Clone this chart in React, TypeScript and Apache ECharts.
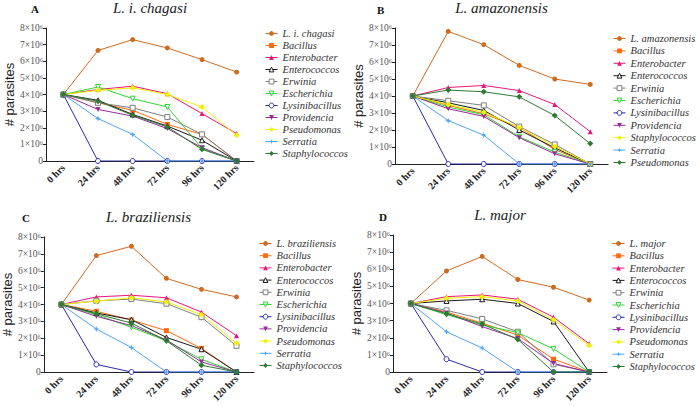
import React, { useEffect, useRef } from "react";
import * as echarts from "echarts";

const hours = ["0 hrs", "24 hrs", "48 hrs", "72 hrs", "96 hrs", "120 hrs"];
const yTicks = [0, 1e6, 2e6, 3e6, 4e6, 5e6, 6e6, 7e6, 8e6];

// Panel A – L. i. chagasi
const chagasi = [4.0e6, 6.65e6, 7.3e6, 6.8e6, 6.1e6, 5.35e6];
const aBacillus = [4.0e6, 3.5e6, 3.05e6, 2.2e6, 1.6e6, 0];
const aEnterobacter = [4.0e6, 4.3e6, 4.5e6, 4.05e6, 2.85e6, 1.65e6];
const aEnterococcos = [4.0e6, 3.65e6, 2.8e6, 2.1e6, 1.25e6, 0];
const aErwinia = [4.0e6, 3.5e6, 3.2e6, 2.65e6, 1.6e6, 0];
const aEscherichia = [4.0e6, 4.45e6, 3.75e6, 3.25e6, 0.75e6, 0];
const aLysinibacillus = [4.0e6, 0, 0, 0, 0, 0];
const aProvidencia = [4.0e6, 3.1e6, 2.7e6, 1.95e6, 0.8e6, 0];
const aPseudomonas = [4.0e6, 4.25e6, 4.4e6, 4.0e6, 3.25e6, 1.55e6];
const aSerratia = [4.0e6, 2.55e6, 1.6e6, 0, 0, 0];
const aStaphylococcos = [4.0e6, 3.6e6, 2.75e6, 2.05e6, 0.7e6, 0];

// Panel B – L. amazonensis
const amazonensis = [4.0e6, 7.8e6, 7.02e6, 5.8e6, 5.0e6, 4.68e6];
const bBacillus = [4.0e6, 3.45e6, 2.95e6, 2.15e6, 0.85e6, 0];
const bEnterobacter = [4.0e6, 4.5e6, 4.62e6, 4.32e6, 3.5e6, 1.9e6];
const bEnterococcos = [4.0e6, 3.6e6, 3.15e6, 2.0e6, 0.95e6, 0];
const bErwinia = [4.0e6, 3.72e6, 3.45e6, 2.2e6, 1.15e6, 0];
const bEscherichia = [4.0e6, 3.35e6, 2.9e6, 1.6e6, 0.7e6, 0];
const bLysinibacillus = [4.0e6, 0, 0, 0, 0, 0];
const bProvidencia = [4.0e6, 3.25e6, 2.8e6, 1.55e6, 0.6e6, 0];
const bStaphylococcos = [4.0e6, 3.5e6, 3.05e6, 2.15e6, 1.05e6, 0];
const bSerratia = [4.0e6, 2.55e6, 1.7e6, 0, 0, 0];
const bPseudomonas = [4.0e6, 4.35e6, 4.25e6, 3.95e6, 2.85e6, 1.2e6];

// Panel C – L. braziliensis
const braziliensis = [4.0e6, 6.9e6, 7.45e6, 5.55e6, 4.9e6, 4.45e6];
const cBacillus = [4.0e6, 3.6e6, 3.08e6, 2.45e6, 1.4e6, 0];
const cEnterobacter = [4.0e6, 4.45e6, 4.55e6, 4.4e6, 3.55e6, 2.15e6];
const cEnterococcos = [4.0e6, 3.5e6, 3.1e6, 2.05e6, 1.35e6, 0];
const cErwinia = [4.0e6, 4.22e6, 4.32e6, 4.05e6, 3.25e6, 1.55e6];
const cEscherichia = [4.0e6, 3.4e6, 2.65e6, 1.85e6, 0.75e6, 0];
const cLysinibacillus = [4.0e6, 0.45e6, 0, 0, 0, 0];
const cProvidencia = [4.0e6, 3.3e6, 2.75e6, 1.9e6, 0.6e6, 0];
const cPseudomonas = [4.0e6, 4.2e6, 4.4e6, 4.15e6, 3.4e6, 1.7e6];
const cSerratia = [4.0e6, 2.55e6, 1.45e6, 0, 0, 0];
const cStaphylococcos = [4.0e6, 3.45e6, 2.9e6, 1.85e6, 0.4e6, 0];

// Panel D – L. major
const major = [4.0e6, 5.9e6, 6.75e6, 5.4e6, 4.95e6, 4.2e6];
const dBacillus = [4.0e6, 3.5e6, 2.85e6, 2.15e6, 0.75e6, 0];
const dEnterobacter = [4.0e6, 4.4e6, 4.5e6, 4.25e6, 3.2e6, 1.65e6];
const dEnterococcos = [4.0e6, 4.15e6, 4.25e6, 4.0e6, 2.95e6, 0];
const dErwinia = [4.0e6, 3.6e6, 3.1e6, 2.35e6, 0.45e6, 0];
const dEscherichia = [4.0e6, 3.35e6, 2.75e6, 2.3e6, 1.35e6, 0];
const dLysinibacillus = [4.0e6, 0.75e6, 0, 0, 0, 0];
const dProvidencia = [4.0e6, 3.45e6, 2.65e6, 1.95e6, 0.5e6, 0];
const dPseudomonas = [4.0e6, 4.3e6, 4.4e6, 4.15e6, 3.05e6, 1.55e6];
const dSerratia = [4.0e6, 2.35e6, 1.4e6, 0, 0, 0];
const dStaphylococcos = [4.0e6, 3.4e6, 2.8e6, 1.9e6, 0, 0];

const TRI_DOWN = "path://M0,0L10,0L5,9Z";
const STAR4 = "path://M5,0L6.3,3.7L10,5L6.3,6.3L5,10L3.7,6.3L0,5L3.7,3.7Z";

type Sty = { color: string; symbol: string; open?: boolean; size?: number };
const STY: Record<string, Sty> = {
  main: { color: "#cf6a1f", symbol: "circle" },
  bacillus: { color: "#ff6a10", symbol: "rect" },
  enterobacter: { color: "#e8177a", symbol: "triangle" },
  enterococcos: { color: "#1a1a1a", symbol: "triangle", open: true },
  erwinia: { color: "#7f7f7f", symbol: "rect", open: true },
  escherichia: { color: "#2ed62e", symbol: TRI_DOWN, open: true },
  lysinibacillus: { color: "#2a2aa6", symbol: "circle", open: true },
  providencia: { color: "#962b9c", symbol: TRI_DOWN },
  yellow: { color: "#f2f200", symbol: "diamond", size: 6 },
  serratia: { color: "#4ea5f7", symbol: STAR4, size: 6 },
  green: { color: "#2d7a32", symbol: "diamond", size: 6 },
};

type Entry = [string, number[], string];
type Panel = {
  letter: string;
  title: string;
  grid: { left: number; top: number; width: number; height: number };
  letterPos: [number, number];
  legendPos: [number, number, number];
  entries: Entry[];
};

const panels: Panel[] = [
  {
    letter: "A",
    title: "L. i. chagasi",
    grid: { left: 46, top: 28, width: 208, height: 133 },
    letterPos: [31, 3],
    legendPos: [265, 28, 12],
    entries: [
      ["L. i. chagasi", chagasi, "main"],
      ["Bacillus", aBacillus, "bacillus"],
      ["Enterobacter", aEnterobacter, "enterobacter"],
      ["Enterococcos", aEnterococcos, "enterococcos"],
      ["Erwinia", aErwinia, "erwinia"],
      ["Escherichia", aEscherichia, "escherichia"],
      ["Lysinibacillus", aLysinibacillus, "lysinibacillus"],
      ["Providencia", aProvidencia, "providencia"],
      ["Pseudomonas", aPseudomonas, "yellow"],
      ["Serratia", aSerratia, "serratia"],
      ["Staphylococcos", aStaphylococcos, "green"],
    ],
  },
  {
    letter: "B",
    title: "L. amazonensis",
    grid: { left: 395, top: 28, width: 213, height: 136 },
    letterPos: [377, 4],
    legendPos: [613, 33, 12.4],
    entries: [
      ["L. amazonensis", amazonensis, "main"],
      ["Bacillus", bBacillus, "bacillus"],
      ["Enterobacter", bEnterobacter, "enterobacter"],
      ["Enterococcos", bEnterococcos, "enterococcos"],
      ["Erwinia", bErwinia, "erwinia"],
      ["Escherichia", bEscherichia, "escherichia"],
      ["Lysinibacillus", bLysinibacillus, "lysinibacillus"],
      ["Providencia", bProvidencia, "providencia"],
      ["Staphylococcos", bStaphylococcos, "yellow"],
      ["Serratia", bSerratia, "serratia"],
      ["Pseudomonas", bPseudomonas, "green"],
    ],
  },
  {
    letter: "C",
    title: "L. braziliensis",
    grid: { left: 43, top: 237, width: 211, height: 135 },
    letterPos: [22, 212],
    legendPos: [259, 238, 12.2],
    entries: [
      ["L. braziliensis", braziliensis, "main"],
      ["Bacillus", cBacillus, "bacillus"],
      ["Enterobacter", cEnterobacter, "enterobacter"],
      ["Enterococcos", cEnterococcos, "enterococcos"],
      ["Erwinia", cErwinia, "erwinia"],
      ["Escherichia", cEscherichia, "escherichia"],
      ["Lysinibacillus", cLysinibacillus, "lysinibacillus"],
      ["Providencia", cProvidencia, "providencia"],
      ["Pseudomonas", cPseudomonas, "yellow"],
      ["Serratia", cSerratia, "serratia"],
      ["Staphylococcos", cStaphylococcos, "green"],
    ],
  },
  {
    letter: "D",
    title: "L. major",
    grid: { left: 393, top: 235, width: 214, height: 137 },
    letterPos: [379, 211],
    legendPos: [612, 238, 12.3],
    entries: [
      ["L. major", major, "main"],
      ["Bacillus", dBacillus, "bacillus"],
      ["Enterobacter", dEnterobacter, "enterobacter"],
      ["Enterococcos", dEnterococcos, "enterococcos"],
      ["Erwinia", dErwinia, "erwinia"],
      ["Escherichia", dEscherichia, "escherichia"],
      ["Lysinibacillus", dLysinibacillus, "lysinibacillus"],
      ["Providencia", dProvidencia, "providencia"],
      ["Pseudomonas", dPseudomonas, "yellow"],
      ["Serratia", dSerratia, "serratia"],
      ["Staphylococcos", dStaphylococcos, "green"],
    ],
  },
];

const SERIF = "'Liberation Serif', 'Times New Roman', serif";
const SANS = "'Liberation Sans', Arial, sans-serif";

function itemStyleOf(s: Sty) {
  return s.open
    ? { color: "#ffffff", borderColor: s.color, borderWidth: 1 }
    : { color: s.color, borderColor: s.color, borderWidth: 0 };
}

function buildOption() {
  const grid: any[] = [];
  const xAxis: any[] = [];
  const yAxis: any[] = [];
  const series: any[] = [];
  const legend: any[] = [];
  const title: any[] = [];

  panels.forEach((p, i) => {
    grid.push({ ...p.grid, containLabel: false });
    xAxis.push({
      type: "category",
      gridIndex: i,
      data: hours,
      boundaryGap: true,
      axisLine: { lineStyle: { color: "#222", width: 1 } },
      axisTick: { alignWithLabel: true, length: 3, lineStyle: { color: "#222" } },
      axisLabel: {
        interval: 0,
        rotate: 45,
        margin: 5,
        fontFamily: SERIF,
        fontWeight: "bold",
        fontSize: 10,
        color: "#222",
      },
    });
    yAxis.push({
      type: "value",
      gridIndex: i,
      min: 0,
      max: yTicks[yTicks.length - 1],
      interval: 1e6,
      name: "# parasites",
      nameLocation: "middle",
      nameGap: 24,
      nameTextStyle: { fontFamily: SANS, fontSize: 13, color: "#222" },
      splitLine: { show: false },
      axisLine: { show: true, lineStyle: { color: "#222", width: 1 } },
      axisTick: { show: true, length: 3, lineStyle: { color: "#222" } },
      axisLabel: {
        margin: 3,
        fontFamily: SERIF,
        fontSize: 9.5,
        color: "#555",
        formatter: (v: number) => (v === 0 ? "0" : `${Math.round(v / 1e6)}×10⁶`),
      },
    });
    const cx = p.grid.left + p.grid.width / 2;
    title.push({
      text: p.title,
      left: cx,
      top: p.grid.top - 28,
      textAlign: "center",
      padding: 0,
      textStyle: {
        fontFamily: SERIF,
        fontStyle: "italic",
        fontWeight: "normal",
        fontSize: 15,
        color: "#222",
      },
    });
    title.push({
      text: p.letter,
      left: p.letterPos[0],
      top: p.letterPos[1],
      padding: 0,
      textStyle: { fontFamily: SERIF, fontWeight: "bold", fontSize: 11, color: "#111" },
    });

    const legendData: any[] = [];
    p.entries.forEach(([name, data, key]) => {
      const s = STY[key];
      series.push({
        type: "line",
        name,
        xAxisIndex: i,
        yAxisIndex: i,
        data,
        symbol: s.symbol,
        symbolSize: s.size ?? 5,
        showSymbol: true,
        lineStyle: { color: s.color, width: 1 },
        itemStyle: itemStyleOf(s),
        emphasis: { disabled: true },
        z: 2,
      });
      legendData.push({
        name,
        itemStyle: itemStyleOf(s),
        lineStyle: { color: s.color, width: 1 },
      });
    });
    const [lx, ly, rowH] = p.legendPos;
    legend.push({
      orient: "vertical",
      left: lx,
      top: ly,
      padding: 0,
      itemWidth: 12,
      itemHeight: 6,
      itemGap: rowH - 11,
      selectedMode: false,
      data: legendData,
      textStyle: {
        fontFamily: SERIF,
        fontStyle: "italic",
        fontSize: 10.5,
        color: "#333",
        lineHeight: 11,
        padding: [0, 0, 0, 0],
      },
    });
  });

  return {
    animation: false,
    backgroundColor: "#ffffff",
    title,
    grid,
    xAxis,
    yAxis,
    legend,
    series,
  };
}

export default function App() {
  const ref = useRef<HTMLDivElement>(null);
  useEffect(() => {
    if (!ref.current) return;
    const chart = echarts.init(ref.current, undefined, { renderer: "svg" });
    chart.setOption(buildOption() as any);
    return () => chart.dispose();
  }, []);
  return (
    <div
      ref={ref}
      style={{ position: "fixed", left: 0, top: 0, width: 700, height: 407, background: "#fff" }}
    />
  );
}
